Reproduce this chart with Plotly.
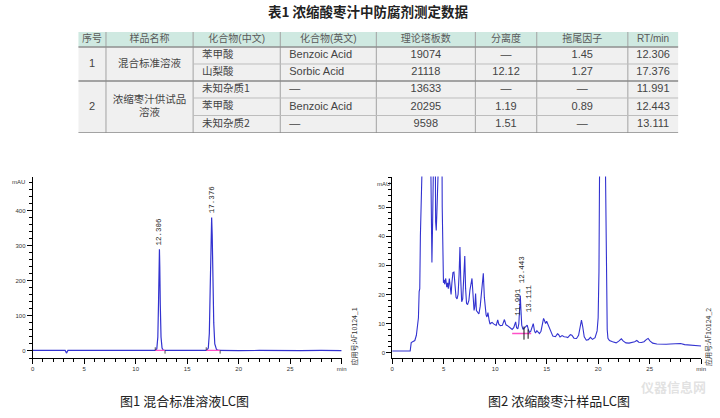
import plotly.graph_objects as go

# ---------------- table data ----------------
headers = ["序号", "样品名称", "化合物(中文)", "化合物(英文)", "理论塔板数", "分离度", "拖尾因子", "RT/min"]
group_no = ["1", "2"]
group_name = ["混合标准溶液", "浓缩枣汁供试品<br>溶液"]
group_rows = [2, 3]
compound_cn = ["苯甲酸", "山梨酸", "未知杂质1", "苯甲酸", "未知杂质2"]
compound_en = ["Benzoic Acid", "Sorbic Acid", "—", "Benzoic Acid", "—"]
plates = ["19074", "21118", "13633", "20295", "9598"]
resolution = ["—", "12.12", "—", "1.19", "1.51"]
tailing = ["1.45", "1.27", "—", "0.89", "—"]
rt_min = ["12.306", "17.376", "11.991", "12.443", "13.111"]

# ---------------- chromatogram 1 (mixed standard) ----------------
t1 = [0, 1.0, 2.0, 3.15, 3.28, 3.42, 5, 8, 11.0, 11.9, 12.05, 12.15, 12.22, 12.27, 12.306,
      12.34, 12.39, 12.46, 12.56, 12.7, 13.5, 16.9, 17.05, 17.15, 17.23, 17.3, 17.376, 17.43,
      17.5, 17.58, 17.68, 17.85, 18.1, 19, 20, 22, 24, 26, 28, 30]
a1 = [1.5, 1.5, 1.5, 1.5, -6, 1.5, 1.5, 1.5, 1.5, 1.5, 6, 40, 140, 240, 290,
      240, 130, 40, 8, 1.5, 1.5, 1.5, 8, 50, 170, 320, 380, 330,
      200, 80, 20, 4, 1.5, 0.5, 1.0, 1.5, 0.5, 1.0, 1.5, 1.0]
peak_rt1 = [12.306, 17.376]
peak_h1 = [290, 380]
peak_lbl1 = ["12.306", "17.376"]
bound_t1 = [11.9, 12.85, 16.85, 18.2]
bound_y1 = [1.5, 1.5, 1.5, 1.5]

# ---------------- chromatogram 2 (jujube juice sample) ----------------
t2 = [0, 0.8, 1.2, 1.5, 1.75, 1.85, 2.0, 2.2, 2.35, 2.45, 2.55, 2.62, 2.68, 2.74, 2.8, 2.84, 2.9,
      3.0, 3.5, 3.7, 3.8, 3.86, 3.93, 4.0, 4.15, 4.22, 4.28, 4.34, 4.4, 4.8, 4.86, 4.92, 4.98,
      5.05, 5.1, 5.2, 5.3, 5.38, 5.45, 5.55, 5.65, 5.72, 5.8, 5.9, 6.0, 6.1, 6.2, 6.3, 6.4,
      6.5, 6.58, 6.66, 6.75, 6.85, 6.95, 7.05, 7.13, 7.22, 7.32, 7.45, 7.55, 7.65, 7.75, 7.85,
      7.95, 8.03, 8.1, 8.18, 8.3, 8.42, 8.55, 8.65, 8.75, 8.85, 8.95, 9.02, 9.12, 9.2, 9.3,
      9.42, 9.5, 9.6, 9.7, 9.85, 9.95, 10.1, 10.25, 10.35, 10.5, 10.7, 10.9, 11.05, 11.2,
      11.45, 11.65, 11.8, 11.91, 11.99, 12.08, 12.2, 12.3, 12.38, 12.443, 12.5, 12.58, 12.7,
      12.85, 12.98, 13.11, 13.22, 13.33, 13.45, 13.6, 13.7, 13.82, 13.92, 14.05, 14.15, 14.3,
      14.45, 14.58, 14.7, 14.8, 14.9, 15.0, 15.1, 15.25, 15.4, 15.6, 15.85, 16.05, 16.15,
      16.3, 16.5, 16.7, 16.9, 17.05, 17.3, 17.45, 17.65, 17.9, 18.1, 18.25, 18.38, 18.5,
      18.65, 18.85, 19.05, 19.25, 19.45, 19.7, 19.9, 20.0, 20.08, 20.15, 20.3, 20.6, 20.72,
      20.8, 20.88, 20.95, 21.1, 21.4, 21.75, 22.0, 22.25, 22.45, 22.7, 23.0, 23.3, 23.55,
      23.75, 23.95, 24.2, 24.45, 24.7, 24.85, 25.05, 25.3, 25.7, 26.2, 26.6, 27.0, 27.4,
      27.75, 28.0, 28.4, 28.9, 29.4, 30.0]
a2 = [0.6, 0.6, 0.4, 0.6, 0.6, 3.5, 3.8, 4.2, 6, 9, 12, 21, 22, 40, 53, 54, 90,
      150, 150, 80, 40, 31, 45, 100, 100, 45, 42, 48, 100, 100, 50, 27, 24,
      25, 23.5, 25.5, 22.5, 24, 22, 25.5, 21, 20, 24, 27.5, 27.7, 24, 19, 18.5, 20,
      27, 36.3, 25, 17.5, 18.5, 26, 33.2, 22, 17, 16.5, 18, 21.5, 24, 25.5, 20,
      14.5, 16, 20.3, 14.5, 14, 13.3, 16, 19.5, 24, 27.3, 19, 15.5, 13, 12.3, 13.8,
      11, 9.8, 10.2, 10.4, 9.9, 9.7, 9.4, 11.3, 9.8, 9.3, 9.4, 11.4, 9.6, 9.3,
      8.7, 8.0, 8.6, 10.0, 10.6, 8.6, 8.2, 10, 15, 19.6, 15, 9.5, 8.0,
      8.5, 9.0, 9.5, 8.0, 7.0, 7.3, 9.6, 10.0, 7.5, 6.8, 7.6, 7.2, 6.6,
      7.4, 9.5, 11.8, 11.0, 10.0, 10.8, 10.0, 8.8, 7.0, 5.7, 5.5, 6.5, 6.3,
      5.4, 5.9, 5.5, 5.4, 5.2, 6.2, 6.0, 5.0, 4.9, 6.0, 9.5, 11.2, 9.0,
      5.5, 4.3, 4.5, 5.3, 4.6, 5.2, 7.5, 12, 28, 70, 150, 150, 60,
      25, 8, 5, 4.2, 3.8, 3.4, 4.0, 4.8, 4.0, 3.4, 3.3, 3.5, 3.8,
      4.2, 3.6, 3.5, 3.8, 4.6, 4.9, 4.0, 3.3, 3.0, 2.9, 2.9, 3.0, 3.1,
      3.3, 3.2, 2.8, 2.6, 2.5, 2.3]
peak_rt2 = [11.991, 12.443, 13.111]
label_base2 = [11.9, 23.3, 13.3]
peak_lbl2 = ["11.991", "12.443", "13.111"]
baseline_t2 = [11.65, 13.5]
baseline_y2 = [6.6, 6.6]
bound_t2 = [12.8, 13.2]
bound_top2 = [9.0, 8.0]
bound_bot2 = [4.5, 4.8]

# ---------------- layout constants (pixels) ----------------
W, H = 720, 418
COL_EDGES = [77, 105, 193, 281, 378, 478, 540, 632, 683]
ROW_EDGES = [32, 47, 64, 81, 98, 115.5, 133]
BLUE = "rgb(50,50,208)"
PINK = "rgb(255,80,200)"
CJK = "Noto Sans CJK SC"
LAT = "Liberation Sans, Noto Sans CJK SC"


def px_x(p):
    return p / W


def px_y(p):
    return 1 - p / H


fig = go.Figure()

# chromatogram traces
fig.add_trace(go.Scatter(x=t1, y=a1, mode="lines", line=dict(color=BLUE, width=1.2),
                         xaxis="x", yaxis="y", hoverinfo="skip", showlegend=False))
fig.add_trace(go.Scatter(x=t2, y=a2, mode="lines", line=dict(color=BLUE, width=1.1),
                         xaxis="x2", yaxis="y2", hoverinfo="skip", showlegend=False))

# integration baselines (pink) and boundary ticks (black)
bx, by = [], []
for i in range(0, len(bound_t1), 2):
    bx += [bound_t1[i], bound_t1[i + 1], None]
    by += [bound_y1[i], bound_y1[i + 1], None]
fig.add_trace(go.Scatter(x=bx, y=by, mode="lines", line=dict(color=PINK, width=1.2),
                         xaxis="x", yaxis="y", hoverinfo="skip", showlegend=False))
tx, ty = [], []
for i, t in enumerate(bound_t1):
    d = 9 if i % 2 == 0 else -9
    tx += [t, t, None]
    ty += [bound_y1[i], bound_y1[i] + d, None]
fig.add_trace(go.Scatter(x=tx, y=ty, mode="lines", line=dict(color="#222", width=0.8),
                         xaxis="x", yaxis="y", hoverinfo="skip", showlegend=False))

fig.add_trace(go.Scatter(x=baseline_t2, y=baseline_y2, mode="lines", line=dict(color=PINK, width=1.6),
                         xaxis="x2", yaxis="y2", hoverinfo="skip", showlegend=False))
tx, ty = [], []
for t, a, b in zip(bound_t2, bound_top2, bound_bot2):
    tx += [t, t, None]
    ty += [a, b, None]
fig.add_trace(go.Scatter(x=tx, y=ty, mode="lines", line=dict(color="#111", width=1),
                         xaxis="x2", yaxis="y2", hoverinfo="skip", showlegend=False))

# ---------------- table ----------------
shapes = []
x0, x1 = COL_EDGES[0], COL_EDGES[-1]
shapes.append(dict(type="rect", xref="x3", yref="y3", x0=x0, x1=x1, y0=ROW_EDGES[0], y1=ROW_EDGES[1],
                   fillcolor="#cfe9e1", line=dict(width=0), layer="below"))
shapes.append(dict(type="rect", xref="x3", yref="y3", x0=x0, x1=x1, y0=ROW_EDGES[1], y1=ROW_EDGES[-1],
                   fillcolor="#f0f0f0", line=dict(width=0), layer="below"))
for ce in COL_EDGES[1:-1]:
    shapes.append(dict(type="line", xref="x3", yref="y3", x0=ce, x1=ce, y0=ROW_EDGES[0], y1=ROW_EDGES[-1],
                       line=dict(color="#a2a2a2", width=1)))
group_end = []
acc = 1
for g in group_rows:
    acc += g
    group_end.append(acc)
for ri in range(2, len(ROW_EDGES)):
    yv = ROW_EDGES[ri]
    if ri in group_end:
        shapes.append(dict(type="line", xref="x3", yref="y3", x0=x0, x1=x1, y0=yv, y1=yv,
                           line=dict(color="#8a8a8a", width=1.5)))
    else:
        shapes.append(dict(type="line", xref="x3", yref="y3", x0=COL_EDGES[2], x1=x1, y0=yv, y1=yv,
                           line=dict(color="#bdbdbd", width=1)))
shapes.append(dict(type="line", xref="x3", yref="y3", x0=x0, x1=x1, y0=ROW_EDGES[1], y1=ROW_EDGES[1],
                   line=dict(color="#8f8f8f", width=1.3)))

col_cx = [(COL_EDGES[i] + COL_EDGES[i + 1]) / 2 for i in range(len(COL_EDGES) - 1)]
row_cy = [(ROW_EDGES[i] + ROW_EDGES[i + 1]) / 2 for i in range(1, len(ROW_EDGES) - 1)]
hdr_y = (ROW_EDGES[0] + ROW_EDGES[1]) / 2

fig.add_trace(go.Scatter(x=col_cx, y=[hdr_y] * len(headers), text=headers, mode="text",
                         textfont=dict(family=LAT, size=10, color="#5a5a5a"), textposition="middle center",
                         xaxis="x3", yaxis="y3", hoverinfo="skip", showlegend=False, cliponaxis=False))

gy = []
start = 1
for g in group_rows:
    gy.append((ROW_EDGES[start] + ROW_EDGES[start + g]) / 2)
    start += g
fig.add_trace(go.Scatter(x=[col_cx[0]] * len(group_no), y=gy, text=group_no, mode="text",
                         textfont=dict(family=LAT, size=11, color="#444"),
                         xaxis="x3", yaxis="y3", hoverinfo="skip", showlegend=False, cliponaxis=False))
fig.add_trace(go.Scatter(x=[col_cx[1]] * len(group_name), y=gy, text=group_name, mode="text",
                         textfont=dict(family=CJK, size=10.5, color="#444"),
                         xaxis="x3", yaxis="y3", hoverinfo="skip", showlegend=False, cliponaxis=False))

fig.add_trace(go.Scatter(x=[COL_EDGES[2] + 9] * len(compound_cn), y=row_cy, text=compound_cn, mode="text",
                         textposition="middle right", textfont=dict(family=CJK, size=10.5, color="#444"),
                         xaxis="x3", yaxis="y3", hoverinfo="skip", showlegend=False, cliponaxis=False))
fig.add_trace(go.Scatter(x=[COL_EDGES[3] + 9] * len(compound_en), y=row_cy, text=compound_en, mode="text",
                         textposition="middle right", textfont=dict(family=LAT, size=11, color="#444"),
                         xaxis="x3", yaxis="y3", hoverinfo="skip", showlegend=False, cliponaxis=False))
for ci, col in zip([4, 5, 6, 7], [plates, resolution, tailing, rt_min]):
    fig.add_trace(go.Scatter(x=[col_cx[ci]] * len(col), y=row_cy, text=col, mode="text",
                             textposition="middle center", textfont=dict(family=LAT, size=11, color="#444"),
                             xaxis="x3", yaxis="y3", hoverinfo="skip", showlegend=False, cliponaxis=False))

# ---------------- annotations ----------------
ann = []
ann.append(dict(text="表1 浓缩酸枣汁中防腐剂测定数据", x=px_x(370), y=px_y(11), xref="paper", yref="paper",
                xanchor="center", yanchor="middle", showarrow=False,
                font=dict(family=CJK, size=13.5, color="#222", weight="bold")))
ann.append(dict(text="图1 混合标准溶液LC图", x=px_x(184), y=px_y(400), xref="paper", yref="paper",
                xanchor="center", yanchor="middle", showarrow=False, font=dict(family=CJK, size=13, color="#222")))
ann.append(dict(text="图2 浓缩酸枣汁样品LC图", x=px_x(562), y=px_y(400), xref="paper", yref="paper",
                xanchor="center", yanchor="middle", showarrow=False, font=dict(family=CJK, size=13, color="#222")))
ann.append(dict(text="mAU", x=px_x(17), y=px_y(182), xref="paper", yref="paper", showarrow=False,
                xanchor="center", yanchor="middle", font=dict(family=LAT, size=6, color="#333")))
ann.append(dict(text="mAU", x=px_x(385), y=px_y(184), xref="paper", yref="paper", showarrow=False,
                xanchor="center", yanchor="middle", font=dict(family=LAT, size=6, color="#333")))
ann.append(dict(text="应用号:AF10124_1", x=px_x(355), y=px_y(337), xref="paper", yref="paper",
                xanchor="center", yanchor="middle",
                showarrow=False, textangle=-90, font=dict(family=CJK, size=7, color="#333")))
ann.append(dict(text="应用号:AF10124_2", x=px_x(713), y=px_y(337), xref="paper", yref="paper",
                xanchor="center", yanchor="middle",
                showarrow=False, textangle=-90, font=dict(family=CJK, size=7, color="#333")))
for t, h, lb in zip(peak_rt1, peak_h1, peak_lbl1):
    ann.append(dict(text=lb, x=t, y=h, xref="x", yref="y", showarrow=False, textangle=-90,
                    xanchor="center", yanchor="bottom", yshift=2,
                    font=dict(family="Liberation Mono", size=7.5, color="#222")))
for t, h, lb in zip(peak_rt2, label_base2, peak_lbl2):
    ann.append(dict(text=lb, x=t, y=h, xref="x2", yref="y2", showarrow=False, textangle=-90,
                    xanchor="center", yanchor="bottom", xshift=2,
                    font=dict(family="Liberation Mono", size=7.5, color="#222")))
ann.append(dict(text="仪器信息网", x=px_x(678), y=px_y(386), xref="paper", yref="paper", showarrow=False,
                xanchor="center", yanchor="middle",
                font=dict(family=CJK, size=13, color="rgba(190,190,190,0.45)", weight="bold")))

# ---------------- axes ----------------
tick_font = dict(family=LAT, size=6, color="#333")
xt = [0, 5, 10, 15, 20, 25, 30]
xtt = ["0", "5", "10", "15", "20", "25", "min"]


def xaxis(dom, anchor):
    return dict(domain=dom, range=[0, 30], anchor=anchor, tickmode="array", tickvals=xt, ticktext=xtt,
                ticks="outside", ticklen=5, tickwidth=0.8, tickcolor="#000", showline=True,
                linecolor="#000", linewidth=1, showgrid=False, zeroline=False, tickfont=tick_font,
                fixedrange=True,
                minor=dict(dtick=1, tick0=0, ticks="outside", ticklen=3, tickcolor="#000", tickwidth=0.7))


def yaxis(dom, anchor, rng, tv, mdt):
    return dict(domain=dom, range=rng, anchor=anchor, tickmode="array", tickvals=tv,
                ticks="outside", ticklen=5, tickwidth=0.8, tickcolor="#000", showline=True,
                linecolor="#000", linewidth=1, showgrid=False, zeroline=False, tickfont=tick_font,
                fixedrange=True,
                minor=dict(dtick=mdt, tick0=0, ticks="outside", ticklen=3, tickcolor="#000", tickwidth=0.7))


ydom = [px_y(358), px_y(176.5)]
fig.update_layout(
    width=W, height=H, margin=dict(l=0, r=0, t=0, b=0),
    paper_bgcolor="white", plot_bgcolor="white",
    xaxis=xaxis([px_x(31), px_x(343)], "y"),
    yaxis=yaxis(ydom, "x", [-20, 497], [0, 100, 200, 300, 400], 20),
    xaxis2=xaxis([px_x(394), px_x(706)], "y2"),
    yaxis2=yaxis(ydom, "x2", [-1.8, 60.5], [0, 10, 20, 30, 40, 50], 2),
    xaxis3=dict(domain=[px_x(COL_EDGES[0]), px_x(COL_EDGES[-1])], range=[COL_EDGES[0], COL_EDGES[-1]],
                anchor="y3", visible=False, fixedrange=True),
    yaxis3=dict(domain=[px_y(ROW_EDGES[-1]), px_y(ROW_EDGES[0])], range=[ROW_EDGES[-1], ROW_EDGES[0]],
                anchor="x3", visible=False, fixedrange=True),
    shapes=shapes, annotations=ann, showlegend=False,
)

fig.write_html("out.html", config={"displayModeBar": False},
               post_script="document.body.style.margin='0px';document.body.style.padding='0px';")
